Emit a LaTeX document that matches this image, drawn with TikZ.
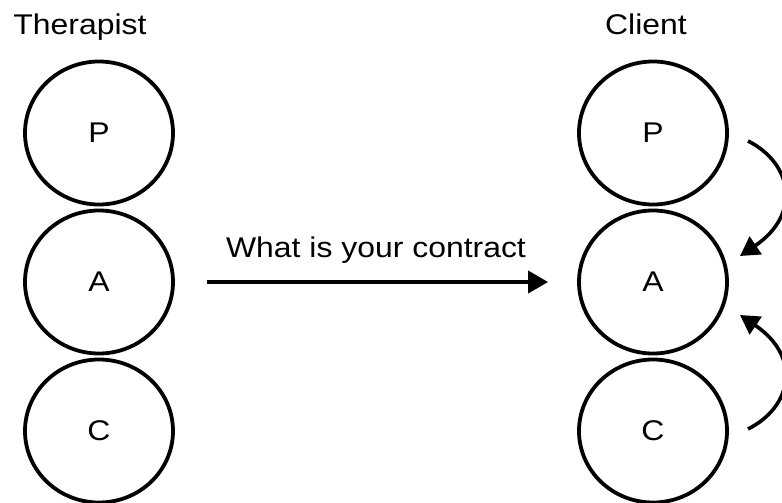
\documentclass[tikz,border=0pt]{standalone}
\usepackage{fontspec}
\setmainfont[FakeStretch=1.12]{Liberation Sans}
\usetikzlibrary{shapes.geometric,arrows.meta,calc}
\begin{document}
\begin{tikzpicture}[x=1pt,y=-1pt,
  ego/.style={ellipse,draw,line width=3.8pt,minimum width=148pt,minimum height=143pt,inner sep=0pt,font=\fontsize{28.5}{34}\selectfont},
  title/.style={anchor=base,font=\fontsize{28.5}{34}\selectfont},
  bigarrow/.style={line width=3.8pt,-{Triangle[length=20pt,width=22pt]}},
  loop/.style={line width=3.6pt,-{Triangle[length=19pt,width=21pt]}}]
\useasboundingbox (0,0) rectangle (782,503);
% therapist column
\node[title] (tt) at (80,35) {Therapist};
\node[ego] (lP) at (99,133) {P};
\node[ego] (lA) at (99,282) {A};
\node[ego] (lC) at (99,431) {C};
% client column
\node[title] (ct) at (646,35) {Client};
\node[ego] (rP) at (653,133) {P};
\node[ego] (rA) at (653,282) {A};
\node[ego] (rC) at (653,431) {C};
% transaction
\draw[bigarrow,shorten <=32pt,shorten >=29pt] (lA.east) -- (rA.west)
  node[midway,above=13pt,font=\fontsize{28.5}{34}\selectfont] (lbl) {What is your contract};
% client's internal moves
\coordinate (pOut) at ($(rP.center)+(95,8)$);
\coordinate (aInT) at ($(rA.center)+(87,-26)$);
\coordinate (cOut) at ($(rC.center)+(95,-2)$);
\coordinate (aInB) at ($(rA.center)+(87,33)$);
\draw[loop] (pOut) .. controls ($(pOut)+(44,22)$) and ($(aInT)+(62,-42)$) .. (aInT);
\draw[loop] (cOut) .. controls ($(cOut)+(44,-22)$) and ($(aInB)+(62,42)$) .. (aInB);
\end{tikzpicture}
\end{document}
